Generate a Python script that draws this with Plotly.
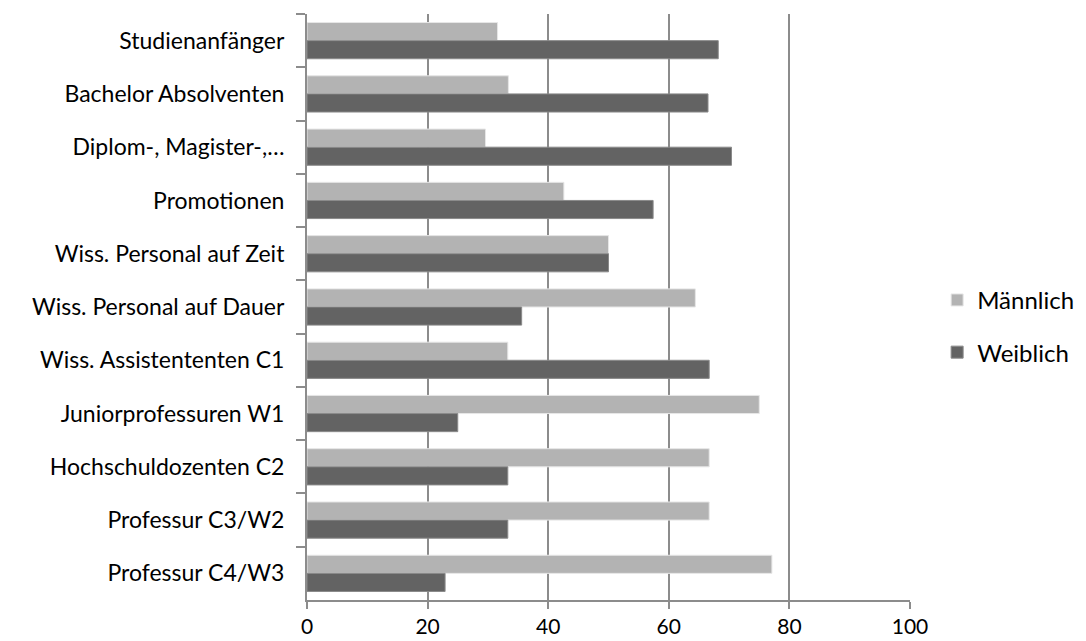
import plotly.graph_objects as go

categories = [
    "Studienanfänger",
    "Bachelor Absolventen",
    "Diplom-, Magister-,…",
    "Promotionen",
    "Wiss. Personal auf Zeit",
    "Wiss. Personal auf Dauer",
    "Wiss. Assistententen C1",
    "Juniorprofessuren W1",
    "Hochschuldozenten C2",
    "Professur C3/W2",
    "Professur C4/W3",
]
maennlich = [31.6, 33.4, 29.6, 42.6, 50.0, 64.4, 33.3, 75.0, 66.7, 66.7, 77.1]
weiblich = [68.2, 66.5, 70.4, 57.4, 50.0, 35.6, 66.7, 25.0, 33.3, 33.3, 22.9]
x_ticks = [0, 20, 40, 60, 80, 100]

FONT = "Lato"

fig = go.Figure()
fig.add_trace(go.Bar(
    y=categories, x=maennlich, name="Männlich", orientation="h",
    legendgroup="m",
    marker=dict(color="#b3b3b3", line=dict(color="#e6e6e6", width=1)),
))
fig.add_trace(go.Bar(
    y=categories, x=weiblich, name="Weiblich", orientation="h",
    legendgroup="w",
    marker=dict(color="#636363", line=dict(color="#8a8a8a", width=1)),
))

fig.update_layout(
    width=1086, height=641,
    margin=dict(l=307, r=176, t=14, b=41, autoexpand=False),
    paper_bgcolor="white", plot_bgcolor="white",
    barmode="group", bargap=0.32, bargroupgap=0,
    font=dict(family=FONT, size=23, color="#000000"),
    showlegend=True,
    legend=dict(
        x=1.045, y=0.467, xanchor="left", yanchor="middle",
        font=dict(family=FONT, size=24, color="#000000"),
        traceorder="grouped", tracegroupgap=18,
        itemwidth=30, bgcolor="rgba(0,0,0,0)",
    ),
    xaxis=dict(
        range=[0, 100], tickvals=x_ticks, ticktext=[str(v) for v in x_ticks],
        showgrid=True, gridcolor="#8c8c8c", gridwidth=2,
        showline=True, linecolor="#8c8c8c", linewidth=2,
        ticks="outside", ticklen=7, tickcolor="#8c8c8c", tickwidth=2,
        zeroline=False, tickfont=dict(family=FONT, size=21),
        ticklabelstandoff=0,
        fixedrange=True,
    ),
    yaxis=dict(
        autorange="reversed", type="category",
        showline=True, linecolor="#8c8c8c", linewidth=2,
        ticks="outside", ticklen=9, tickcolor="#8c8c8c", tickwidth=2,
        tickson="boundaries", showgrid=False,
        tickfont=dict(family=FONT, size=23),
        ticklabelstandoff=16,
    ),
)

fig.write_html(
    "out.html",
    config={"displayModeBar": False},
    post_script="document.body.style.margin='0px';document.body.style.overflow='hidden';",
)
